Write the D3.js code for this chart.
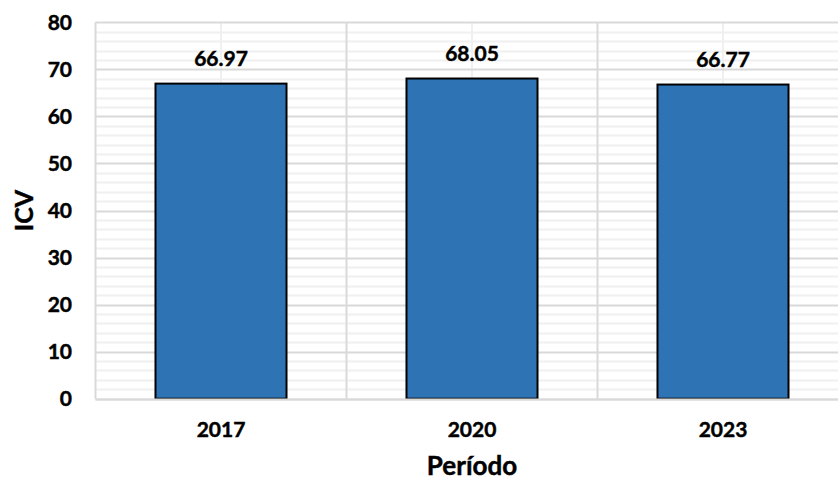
<!DOCTYPE html>
<html><head><meta charset="utf-8">
<script src="https://cdn.jsdelivr.net/npm/d3@7"></script>
<style>
html,body{margin:0;padding:0;background:#fff;}
svg{display:block;font-family:Lato,"Open Sans",sans-serif;font-weight:bold;}
svg text{stroke:#000;stroke-width:0.45px;}
</style></head>
<body>
<svg id="chart" width="838" height="481"></svg>
<script>
const categories = ["2017", "2020", "2023"];
const values = [66.97, 68.05, 66.77];
const valueLabels = ["66.97", "68.05", "66.77"];
const yTicks = [0, 10, 20, 30, 40, 50, 60, 70, 80];
const yMinorTicks = d3.range(0, 81, 2);
const yTitle = "ICV";
const xTitle = "Período";

(function () {
const svg = d3.select("#chart");
const pLeft = 95.5, pRight = 848.5, pTop = 22.3, pBottom = 398.7;

const x = d3.scaleBand().domain(categories).range([pLeft, pRight])
  .paddingInner(0.478).paddingOuter(0.239);
const y = d3.scaleLinear().domain([0, 80]).range([pBottom, pTop]);

const step = x.step();
const g = svg.append("g");

g.selectAll(".hmin").data(yMinorTicks.filter(v => v % 10 !== 0)).enter().append("line")
  .attr("x1", pLeft).attr("x2", pRight)
  .attr("y1", d => Math.round(y(d)) + 0.5).attr("y2", d => Math.round(y(d)) + 0.5)
  .attr("stroke", "#f0f0f0").attr("stroke-width", 2);
g.selectAll(".vmin").data(categories).enter().append("line")
  .attr("x1", d => x(d) + x.bandwidth() / 2).attr("x2", d => x(d) + x.bandwidth() / 2)
  .attr("y1", pTop).attr("y2", pBottom)
  .attr("stroke", "#f0f0f0").attr("stroke-width", 2);
g.selectAll(".hmaj").data(yTicks).enter().append("line")
  .attr("x1", pLeft).attr("x2", pRight)
  .attr("y1", d => Math.round(y(d)) + 0.5).attr("y2", d => Math.round(y(d)) + 0.5)
  .attr("stroke", "#d9d9d9").attr("stroke-width", 2);
const bounds = d3.range(categories.length + 1).map(i => pLeft + i * step);
g.selectAll(".vmaj").data(bounds).enter().append("line")
  .attr("x1", d => d).attr("x2", d => d)
  .attr("y1", pTop).attr("y2", pBottom)
  .attr("stroke", "#d9d9d9").attr("stroke-width", 2);

g.selectAll(".bar").data(values).enter().append("rect")
  .attr("x", (d, i) => x(categories[i]))
  .attr("y", d => y(d))
  .attr("width", x.bandwidth())
  .attr("height", d => y(0) - y(d))
  .attr("fill", "#2E74B5")
  .attr("stroke", "#000").attr("stroke-width", 2);

g.append("line").attr("x1", pLeft).attr("x2", pRight)
  .attr("y1", Math.round(y(0)) + 0.5).attr("y2", Math.round(y(0)) + 0.5)
  .attr("stroke", "#d9d9d9").attr("stroke-width", 2);

g.selectAll(".vl").data(values).enter().append("text")
  .attr("x", (d, i) => x(categories[i]) + x.bandwidth() / 2)
  .attr("y", d => y(d) - 17.8)
  .attr("text-anchor", "middle").attr("font-size", 21).attr("fill", "#000")
  .text((d, i) => valueLabels[i]);

g.selectAll(".yt").data(yTicks).enter().append("text")
  .attr("x", 72).attr("y", d => y(d))
  .attr("dy", "0.36em")
  .attr("text-anchor", "end").attr("font-size", 21).attr("fill", "#000")
  .text(d => d);

g.selectAll(".xt").data(categories).enter().append("text")
  .attr("x", d => x(d) + x.bandwidth() / 2).attr("y", 437)
  .attr("text-anchor", "middle").attr("font-size", 21).attr("fill", "#000")
  .text(d => d);

svg.append("text")
  .attr("transform", `translate(33,${(pTop + pBottom) / 2}) rotate(-90)`)
  .attr("text-anchor", "middle").attr("font-size", 25).attr("fill", "#000")
  .text(yTitle);
svg.append("text")
  .attr("x", x(categories[1]) + x.bandwidth() / 2).attr("y", 475)
  .attr("text-anchor", "middle").attr("font-size", 26).attr("fill", "#000")
  .text(xTitle);
})();
</script>
</body></html>
